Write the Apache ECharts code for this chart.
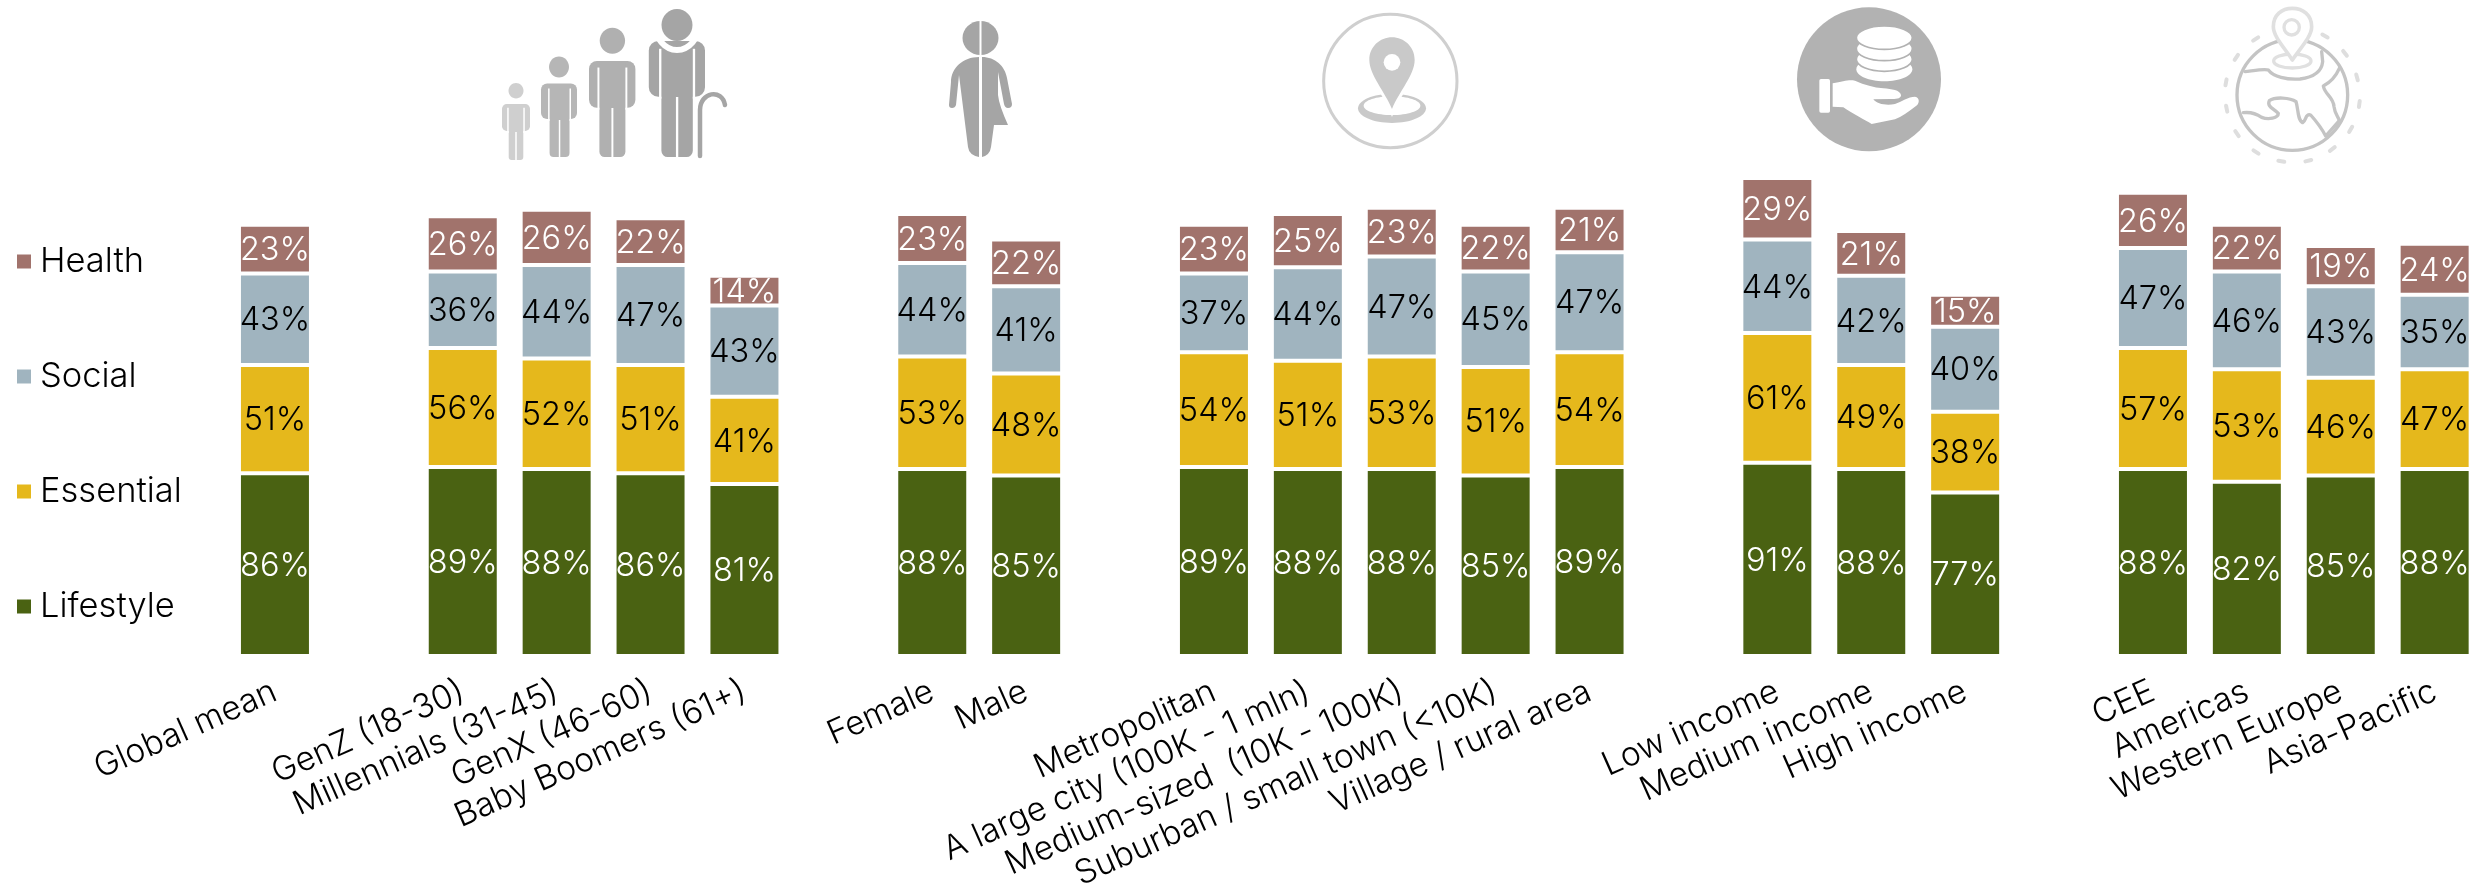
<!DOCTYPE html>
<html><head><meta charset="utf-8">
<style>html,body{margin:0;padding:0;background:#fff}#c{width:2484px;height:889px}</style>
<script src="https://cdn.jsdelivr.net/npm/echarts@6/dist/echarts.min.js"></script>
</head><body><div id="c"></div>
<script>
const categories = ['Global mean','','GenZ (18-30)','Millennials (31-45)','GenX (46-60)','Baby Boomers (61+)','','Female','Male','','Metropolitan','A large city (100K - 1 mln)','Medium-sized  (10K - 100K)','Suburban / small town (<10K)','Village / rural area','','Low income','Medium income','High income','','CEE','Americas','Western Europe','Asia-Pacific'];
const lifestyle = [86,null,89,88,86,81,null,88,85,null,89,88,88,85,89,null,91,88,77,null,88,82,85,88];
const essential = [51,null,56,52,51,41,null,53,48,null,54,51,53,51,54,null,61,49,38,null,57,53,46,47];
const social    = [43,null,36,44,47,43,null,44,41,null,37,44,47,45,47,null,44,42,40,null,47,46,43,35];
const health    = [23,null,26,26,22,14,null,23,22,null,23,25,23,22,21,null,29,21,15,null,26,22,19,24];

const FONT = 'Inter';
function mk(name, data, color, labelColor){
  return {name, type:'bar', stack:'t', data, barWidth:72,
    itemStyle:{color, borderColor:'#fff', borderWidth:2},
    label:{show:true, position:'inside', formatter:'{c}%', color:labelColor, fontFamily:FONT, fontWeight:300, fontSize:32.5, offset:[0,1.5]},
    emphasis:{disabled:true}};
}

/* decorative icons */
function person(c, hx, hy, hrx, hry, sl, sr, st, ab, ll, lr, cr, fb){
  const sw = Math.max(1.5,(sr-sl)/24);
  return [
    {type:'ellipse', shape:{cx:hx, cy:hy, rx:hrx, ry:hry}, style:{fill:c}},
    {type:'rect', shape:{x:sl, y:st, width:sr-sl, height:ab-st, r:(sr-sl)*0.17}, style:{fill:c}},
    {type:'rect', shape:{x:ll, y:st+2, width:lr-ll, height:fb-st-2, r:[0,0,(lr-ll)*0.2,(lr-ll)*0.2]}, style:{fill:c}},
    {type:'line', shape:{x1:ll-sw/2, y1:st+(ab-st)*0.14, x2:ll-sw/2, y2:ab+2}, style:{stroke:'#fff', lineWidth:sw}},
    {type:'line', shape:{x1:lr+sw/2, y1:st+(ab-st)*0.14, x2:lr+sw/2, y2:ab+2}, style:{stroke:'#fff', lineWidth:sw}},
    {type:'line', shape:{x1:(ll+lr)/2, y1:cr, x2:(ll+lr)/2, y2:fb+1}, style:{stroke:'#fff', lineWidth:sw}}
  ];
}
const people = [].concat(
  person('#cfcfcf',516,90.7,7.5,7.7, 502,530,104,131, 508.7,523.3,132,160),
  person('#b6b6b6',559,67,10,10.5, 541,577,83.5,119, 549.6,569.5,120,157),
  person('#b0b0b0',612.4,40.7,12.7,13, 589,635.4,61,107.7, 599.4,625.4,108,157),
  person('#a5a5a5',677,25,15.5,16, 648.8,705,41,96.7, 661.4,692.8,97,157),
  [{type:'ellipse', shape:{cx:677, cy:24, rx:22, ry:26}, style:{fill:'none', stroke:'#fff', lineWidth:6}},
   {type:'path', shape:{pathData:'M700,156 L700,110 C700,92 722,88 725,105'}, style:{fill:'none', stroke:'#a5a5a5', lineWidth:4.5, lineCap:'round'}}]
);
const gender = [
  {type:'ellipse', shape:{cx:980.5, cy:38, rx:18, ry:17}, style:{fill:'#a5a5a5'}},
  {type:'path', shape:{pathData:'M979,57 C963,57 951,68 951,82 L949,105 Q949,108 952,108 Q955,108 956,105 L959,75 L968,147 Q969,155 979,157 Z'}, style:{fill:'#a5a5a5'}},
  {type:'path', shape:{pathData:'M982,57 C995,57 1005,66 1007,78 L1012,104 Q1012,108 1008,108 Q1005,108 1004,104 L998,72 L998,95 Q999,105 1008,125 L994,125 L991,147 Q990,155 982,157 Z'}, style:{fill:'#a5a5a5'}},
  {type:'line', shape:{x1:980.5, y1:20, x2:980.5, y2:56}, style:{stroke:'#fff', lineWidth:2}}
];
const PIN = 'M246,312 C225,260 178,210 178,165 C178,125 210,97 246,97 C282,97 314,125 314,165 C314,210 267,260 246,312 Z';
const location_ = {type:'group', x:1310, y:5, scaleX:1/3, scaleY:1/3, children:[
  {type:'circle', shape:{cx:241, cy:228, r:200}, style:{fill:'none', stroke:'#cfcfcf', lineWidth:9}},
  {type:'ellipse', shape:{cx:246, cy:310, rx:102, ry:44}, style:{fill:'#c9c9c9'}},
  {type:'ellipse', shape:{cx:246, cy:302, rx:85, ry:28}, style:{fill:'#fff'}},
  {type:'path', shape:{pathData:PIN}, style:{fill:'#fff', stroke:'#fff', lineWidth:18}},
  {type:'path', shape:{pathData:PIN}, style:{fill:'#c9c9c9'}},
  {type:'circle', shape:{cx:246, cy:172, r:25}, style:{fill:'#fff'}}
]};
const coinStyle = {fill:'#fff', stroke:'#b2b2b2', lineWidth:5};
const income = {type:'group', x:1790, y:0, scaleX:1/3, scaleY:1/3, children:[
  {type:'circle', shape:{cx:237, cy:238, r:216}, style:{fill:'#b2b2b2'}},
  {type:'ellipse', shape:{cx:283, cy:208, rx:84, ry:36}, style:{fill:'#fff'}},
  {type:'ellipse', shape:{cx:283, cy:178, rx:84, ry:36}, style:coinStyle},
  {type:'ellipse', shape:{cx:283, cy:146, rx:84, ry:36}, style:coinStyle},
  {type:'ellipse', shape:{cx:283, cy:113, rx:84, ry:35}, style:coinStyle},
  {type:'rect', shape:{x:88, y:237, width:32, height:101, r:5}, style:{fill:'#fff'}},
  {type:'path', shape:{pathData:'M128,250 C160,245 175,238 195,242 C225,255 250,262 280,265 C305,268 330,270 333,285 C334,295 320,298 300,297 L250,298 C260,312 290,318 315,312 C335,305 355,290 375,290 C390,292 390,312 375,320 C355,335 335,350 315,358 L245,372 C225,360 185,340 160,322 L128,320 Z'}, style:{fill:'#fff'}}
]};
const dashPts = [[137,117],[79,172],[48,247],[50,326],[81,401],[138,456],[214,484],[295,482],[367,447],[422,388],[448,312],[441,232],[405,160],[345,108]];
const dashes = dashPts.map(function(p){
  const dx=p[0]-247, dy=p[1]-285, L=Math.hypot(dx,dy), tx=-dy/L*9, ty=dx/L*9;
  return {type:'line', shape:{x1:p[0]-tx, y1:p[1]-ty, x2:p[0]+tx, y2:p[1]+ty}, style:{stroke:'#dedede', lineWidth:12, lineCap:'round'}};
});
const land = {fill:'none', stroke:'#c4c4c4', lineWidth:10, lineCap:'round', lineJoin:'round'};
const PIN2 = 'M247,180 C225,145 190,110 190,80 C190,45 215,25 247,25 C279,25 305,45 305,80 C305,110 270,145 247,180 Z';
const globe = {type:'group', x:2210, y:0, scaleX:1/3, scaleY:1/3, children:[].concat(dashes, [
  {type:'circle', shape:{cx:247, cy:285, r:166}, style:{fill:'none', stroke:'#c4c4c4', lineWidth:10}},
  {type:'path', shape:{pathData:'M105,215 C130,212 165,205 175,210 C190,230 230,240 270,237 C310,232 335,215 338,185 L335,155'}, style:land},
  {type:'path', shape:{pathData:'M388,205 C375,235 355,250 340,258 C345,285 370,290 372,320 C375,345 385,350 388,362'}, style:land},
  {type:'path', shape:{pathData:'M100,338 C125,335 145,345 155,352 C175,360 205,355 205,340 C190,325 170,320 178,302 C195,290 240,292 258,305 C265,325 262,360 278,368 C290,360 285,340 302,345 C320,365 335,385 347,408 L388,362'}, style:land},
  {type:'ellipse', shape:{cx:247, cy:183, rx:56, ry:21}, style:{fill:'#fff', stroke:'#e0e0e0', lineWidth:10}},
  {type:'path', shape:{pathData:PIN2}, style:{fill:'#fff', stroke:'#e0e0e0', lineWidth:11, lineJoin:'round'}},
  {type:'circle', shape:{cx:245, cy:82, r:23}, style:{fill:'#fff', stroke:'#e0e0e0', lineWidth:10}}
])};

const chart = echarts.init(document.getElementById('c'), null, {renderer:'canvas'});
chart.setOption({
  animation:false,
  backgroundColor:'#fff',
  grid:{left:228, top:18.5, width:2253.6, height:637.5, outerBoundsMode:'none'},
  legend:{
    data:['Health','Social','Essential','Lifestyle'],
    orient:'vertical', left:15, top:244, padding:0, itemWidth:16, itemHeight:16, itemGap:80, icon:'rect',
    selectedMode:false,
    textStyle:{fontFamily:FONT, fontWeight:300, fontSize:34.5, color:'#000', padding:[0,0,0,3], height:34, lineHeight:34}
  },
  xAxis:{type:'category', data:categories,
    axisLine:{show:false}, axisTick:{show:false},
    axisLabel:{interval:0, rotate:24, margin:34, fontFamily:FONT, fontWeight:300, fontSize:33.5, color:'#000'}},
  yAxis:{type:'value', min:0, max:300, show:false, splitLine:{show:false}},
  series:[
    mk('Lifestyle', lifestyle, '#4A6212', '#fff'),
    mk('Essential', essential, '#E5B81C', '#000'),
    mk('Social', social, '#A0B4BF', '#000'),
    mk('Health', health, '#A1736C', '#fff'),
    {type:'custom', coordinateSystem:'none', silent:true, data:[[0]],
     renderItem:function(){
       return {type:'group', children:[
         {type:'group', children:people},
         {type:'group', children:gender},
         location_, income, globe
       ]};
     }}
  ]
});
</script></body></html>
